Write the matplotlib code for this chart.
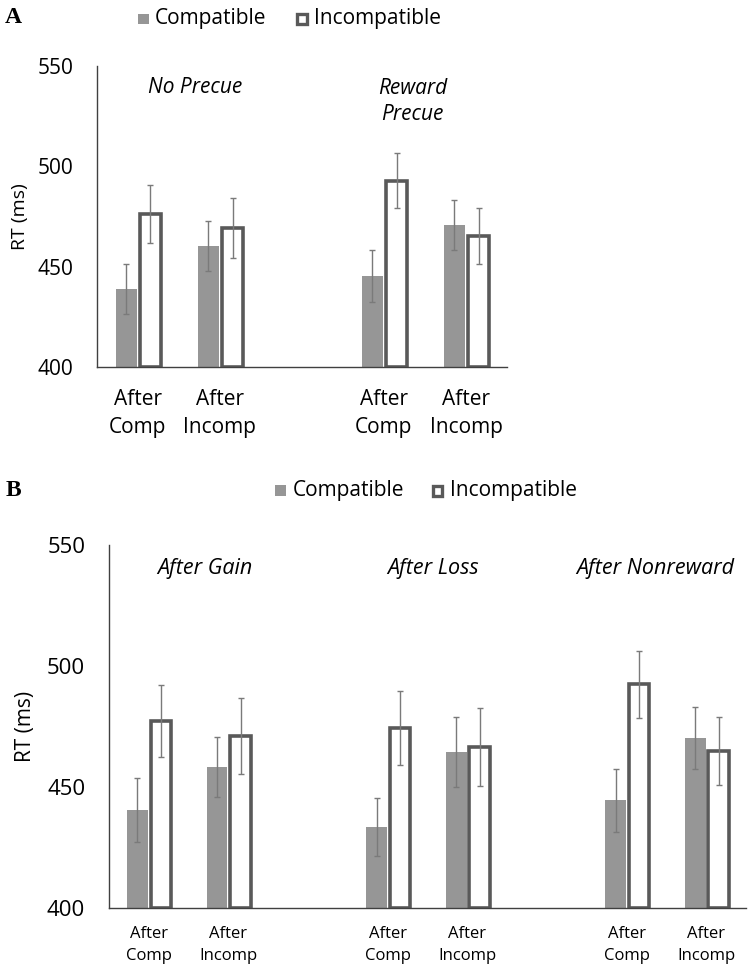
import matplotlib.pyplot as plt
import numpy as np

plt.rcParams['font.family'] = ['Open Sans', 'DejaVu Sans']

# Panel A data: (No Precue, Reward Precue) x (After Comp, After Incomp)
a_groups = ['No Precue', 'Reward\nPrecue']
a_pos = [0.5, 1.5, 3.5, 4.5]
a_comp = [438.8, 460.2, 445.5, 470.8]
a_comp_err = [12.5, 12.5, 13.0, 12.5]
a_incomp = [476.5, 469.3, 492.8, 465.2]
a_incomp_err = [14.5, 15.0, 13.7, 14.0]

# Panel B data: (After Gain, After Loss, After Nonreward) x (After Comp, After Incomp)
b_groups = ['After Gain', 'After Loss', 'After Nonreward']
b_pos = [0.5, 1.5, 3.5, 4.5, 6.5, 7.5]
b_comp = [440.4, 458.4, 433.5, 464.4, 444.6, 470.4]
b_comp_err = [13.3, 12.3, 12.0, 14.5, 13.1, 12.7]
b_incomp = [477.4, 471.1, 474.5, 466.6, 492.5, 464.9]
b_incomp_err = [15.0, 15.7, 15.4, 16.0, 13.7, 14.0]

cat_labels = ['After\nComp', 'After\nIncomp']

COMP = '#969696'
EDGE = '#595959'
ERR = '#7a7a7a'


def draw_panel(ax, pos, comp, comp_err, incomp, incomp_err, xmax, tick_fs, xpad, lsp):
    pos = np.array(pos)
    w = 0.26
    ax.bar(pos - 0.14, np.array(comp) - 400, w, bottom=400, color=COMP, zorder=2)
    ax.bar(pos + 0.155, np.array(incomp) - 400, w, bottom=400, color='white',
           edgecolor=EDGE, linewidth=2.6, zorder=2)
    ax.errorbar(pos - 0.14, comp, yerr=comp_err, fmt='none', ecolor=ERR,
                elinewidth=1, capsize=2.5, capthick=1, zorder=3)
    ax.errorbar(pos + 0.155, incomp, yerr=incomp_err, fmt='none', ecolor=ERR,
                elinewidth=1, capsize=2.5, capthick=1, zorder=3)
    ax.set_xlim(0, xmax)
    ax.set_ylim(400, 550)
    ax.set_yticks([400, 450, 500, 550])
    ax.set_xticks(pos)
    labels = ax.set_xticklabels(cat_labels * (len(pos) // 2), fontsize=tick_fs)
    for t in labels:
        t.set_linespacing(lsp)
    ax.tick_params(axis='x', length=0, pad=xpad)
    ax.tick_params(axis='y', length=0, pad=17)
    for s in ['top', 'right']:
        ax.spines[s].set_visible(False)
    for s in ['left', 'bottom']:
        ax.spines[s].set_color('#404040')
        ax.spines[s].set_linewidth(1)


fig = plt.figure(figsize=(7.5, 9.67), dpi=100)

# ---- Panel A ----
axA = fig.add_axes([0.129, 0.6205, 0.547, 0.311])
draw_panel(axA, a_pos, a_comp, a_comp_err, a_incomp, a_incomp_err, 5, 15, 16, 1.45)
axA.tick_params(axis='y', labelsize=15)
axA.set_ylabel('RT (ms)', fontsize=14, labelpad=6)
axA.text(1.2, 539.5, a_groups[0], ha='center', va='center', fontsize=15, style='italic')
axA.text(3.85, 532.5, a_groups[1], ha='center', va='center', fontsize=15,
         style='italic', linespacing=1.35)

# ---- Panel B ----
axB = fig.add_axes([0.145, 0.061, 0.85, 0.375])
draw_panel(axB, b_pos, b_comp, b_comp_err, b_incomp, b_incomp_err, 8, 12, 13, 1.5)
axB.tick_params(axis='y', labelsize=16)
axB.set_ylabel('RT (ms)', fontsize=15, labelpad=8)
for x, g in zip([1.2, 4.07, 6.86], b_groups):
    axB.text(x, 540.5, g, ha='center', va='center', fontsize=15.5, style='italic')

# ---- legends and panel letters ----
for y, xs in [(0.981, (144, 302)), (0.493, (281, 438))]:
    fig.patches.append(plt.Rectangle((xs[0] / 750 - 0.008, y - 0.006), 0.014, 0.011,
                                     transform=fig.transFigure, facecolor=COMP))
    fig.patches.append(plt.Rectangle((xs[1] / 750 - 0.007, y - 0.0055), 0.013, 0.010,
                                     transform=fig.transFigure, facecolor='white',
                                     edgecolor=EDGE, linewidth=2.4))
    fig.text(xs[0] / 750 + 0.015, y, 'Compatible', fontsize=15, va='center')
    fig.text(xs[1] / 750 + 0.016, y, 'Incompatible', fontsize=15, va='center')

fig.text(0.007, 0.982, 'A', fontsize=17, fontweight='bold', family='Liberation Serif', va='center')
fig.text(0.007, 0.493, 'B', fontsize=17, fontweight='bold', family='Liberation Serif', va='center')

fig.savefig('out.png', dpi=100)
